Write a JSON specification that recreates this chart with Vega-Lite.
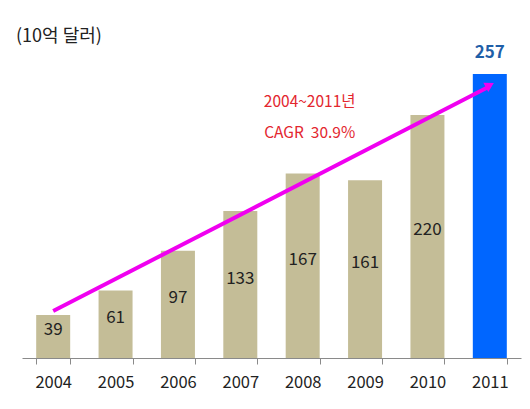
{
  "$schema": "https://vega.github.io/schema/vega-lite/v6.json",
  "width": 499,
  "height": 338,
  "autosize": "none",
  "padding": {"left": 22, "top": 20, "right": 9, "bottom": 51},
  "background": "white",
  "config": {"view": {"stroke": null}, "font": "Noto Sans CJK KR"},
  "title": {"text": "(10억 달러)", "anchor": "start", "frame": "group", "orient": "top", "offset": -26, "dx": -6, "fontSize": 18, "fontWeight": "normal", "color": "#222222", "font": "Noto Sans CJK KR"},
  "data": {"values": [
    {"year": "2004", "value": 39},
    {"year": "2005", "value": 61},
    {"year": "2006", "value": 97},
    {"year": "2007", "value": 133},
    {"year": "2008", "value": 167},
    {"year": "2009", "value": 161},
    {"year": "2010", "value": 220},
    {"year": "2011", "value": 257}
  ]},
  "encoding": {
    "x": {"field": "year", "type": "ordinal", "scale": {"paddingInner": 0.455, "paddingOuter": 0.2275},
      "axis": {"title": null, "labelAngle": 0, "labelFontSize": 16.5, "labelColor": "#222222", "labelPadding": 10, "domainColor": "#8a8a8a", "tickColor": "#8a8a8a", "tickSize": 6, "tickBand": "extent", "labelFont": "Noto Sans CJK KR"}}
  },
  "layer": [
    {
      "mark": {"type": "bar"},
      "encoding": {
        "y": {"field": "value", "type": "quantitative", "scale": {"domain": [0, 306], "nice": false}, "axis": null},
        "color": {"condition": {"test": "datum.year == '2011'", "value": "#0066ff"}, "value": "#c4bd97"}
      }
    },
    {
      "transform": [{"filter": "datum.year != '2011'"}, {"calculate": "datum.value / 2", "as": "mid"}],
      "mark": {"type": "text", "fontSize": 17, "color": "#222222", "dy": -6, "baseline": "middle"},
      "encoding": {
        "y": {"field": "mid", "type": "quantitative"},
        "text": {"field": "value", "type": "quantitative"}
      }
    },
    {
      "transform": [{"filter": "datum.year == '2011'"}],
      "mark": {"type": "text", "fontSize": 17, "fontWeight": "bold", "color": "#1f5fa8", "dy": -12, "baseline": "bottom"},
      "encoding": {
        "y": {"field": "value", "type": "quantitative"},
        "text": {"field": "value", "type": "quantitative"}
      }
    },
    {
      "data": {"values": [{"year": "2004", "trend": 42.5}, {"year": "2011", "trend": 246}]},
      "mark": {"type": "line", "color": "#f000f0", "strokeWidth": 4},
      "encoding": {"y": {"field": "trend", "type": "quantitative"}}
    },
    {
      "data": {"values": [{"year": "2011", "trend": 247}]},
      "mark": {"type": "point", "shape": "triangle-right", "filled": true, "color": "#f000f0", "size": 110, "angle": 332, "opacity": 1},
      "encoding": {"y": {"field": "trend", "type": "quantitative"}}
    },
    {
      "data": {"values": [{"year": "2008", "pos": 232, "label": "2004~2011년"}, {"year": "2008", "pos": 204, "label": "CAGR\u00a0 30.9%"}]},
      "mark": {"type": "text", "fontSize": 15.5, "color": "#e3262e", "dx": 7, "baseline": "middle"},
      "encoding": {
        "y": {"field": "pos", "type": "quantitative"},
        "text": {"field": "label"}
      }
    }
  ]
}
